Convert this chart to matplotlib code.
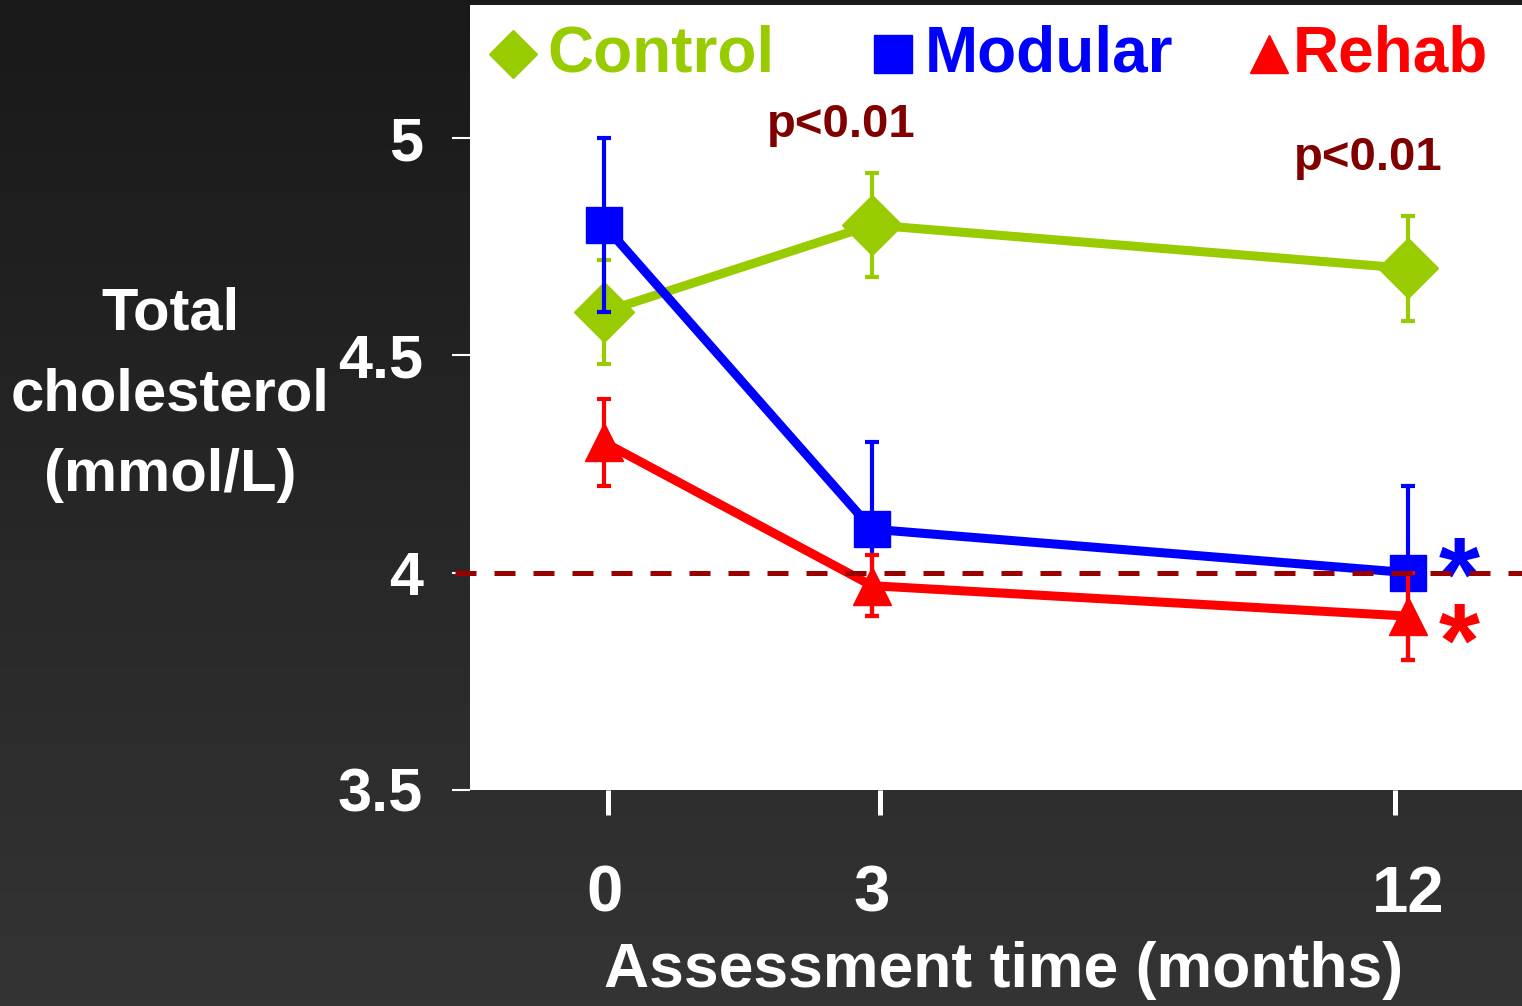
import matplotlib.pyplot as plt
import numpy as np
from matplotlib.colors import LinearSegmentedColormap

# data
months = ['0', '3', '12']
xpos = [0, 1, 3]

control = [4.60, 4.80, 4.70]
control_err = [0.12, 0.12, 0.12]
modular = [4.80, 4.10, 4.00]
modular_err = [0.20, 0.20, 0.20]
rehab = [4.30, 3.97, 3.90]
rehab_err = [0.10, 0.07, 0.10]

target = 4.0
yticks = [3.5, 4, 4.5, 5]
ytick_labels = ['3.5', '4', '4.5', '5']

GREEN = '#99cc00'
BLUE = '#0000ff'
RED = '#ff0000'
DARKRED = '#800000'

plt.rcParams['font.family'] = ['Liberation Sans', 'DejaVu Sans']
plt.rcParams['font.weight'] = 'bold'

fig = plt.figure(figsize=(15.22, 10.06), dpi=100)

# dark gradient background
bg = fig.add_axes([0, 0, 1, 1], zorder=-10)
cmap = LinearSegmentedColormap.from_list('bg', ['#191919', '#343434'])
bg.imshow(np.linspace(0, 1, 256).reshape(-1, 1), aspect='auto', cmap=cmap,
          extent=[0, 1, 0, 1], origin='upper')
bg.axis('off')

ax = fig.add_axes([470/1522, 1 - 790/1006, 1 - 470/1522, (790 - 5)/1006])
ax.set_facecolor('white')
for s in ax.spines.values():
    s.set_visible(False)

ax.set_xlim(-0.5, 3.425)
ax.set_ylim(3.5, 5.306)

ekw = dict(elinewidth=3, capsize=5, capthick=3, lw=6.5)
ax.errorbar(xpos, control, yerr=control_err, color=GREEN, marker='D', ms=31, zorder=3, **ekw)
ax.errorbar(xpos, modular, yerr=modular_err, color=BLUE, marker='s', ms=26, zorder=4, **ekw)
ax.errorbar(xpos, rehab, yerr=rehab_err, color=RED, marker='^', ms=27, zorder=5, **ekw)

ax.axhline(target, xmin=-0.014, xmax=1, color='#990000', lw=3.6,
           linestyle=(0, (4.2, 3.6)), zorder=6, clip_on=False)

# labels sit under the points, tick marks a little off them
ax.set_xticks(xpos)
ax.set_xticklabels(months)
ax.set_xticks([0.015, 1.03, 2.95], minor=True)
ax.set_yticks(yticks)
ax.set_yticklabels(ytick_labels)
ax.tick_params(axis='x', which='major', colors='white', length=0, pad=54, labelsize=47)
ax.tick_params(axis='x', which='minor', colors='white', length=18, width=3.6)
ax.tick_params(axis='y', colors='white', length=13, width=1.5, pad=21, labelsize=44)

# significance labels
ax.text(0.885, 5.03, 'p<0.01', color=DARKRED, fontsize=34, ha='center', va='center')
ax.text(2.85, 4.954, 'p<0.01', color=DARKRED, fontsize=34, ha='center', va='center')
ax.text(3.19, 3.975, '*', color=BLUE, fontsize=76, ha='center', va='center')
ax.text(3.19, 3.825, '*', color=RED, fontsize=76, ha='center', va='center')

# legend drawn as markers + coloured words
legend = [('Control', GREEN, 'D', 43/1052, 77/1052),
          ('Modular', BLUE, 's', 423/1052, 455/1052),
          ('Rehab', RED, '^', 799/1052, 823/1052)]
for name, col, mk, mx, tx in legend:
    ax.plot([mx], [0.937], marker=mk, color=col, ms=28 if mk != 'D' else 24,
            transform=ax.transAxes, clip_on=False, zorder=7)
    ax.text(tx, 0.937, name, color=col, fontsize=46, ha='left', va='center',
            transform=ax.transAxes)

fig.text(170/1522, 1 - 395/1006, 'Total\ncholesterol\n(mmol/L)', color='white',
         fontsize=43, ha='center', va='center', linespacing=1.6)
fig.text(1004/1522, 1 - 970/1006, 'Assessment time (months)', color='white',
         fontsize=45, ha='center', va='center')

fig.savefig('out.png', dpi=100)
